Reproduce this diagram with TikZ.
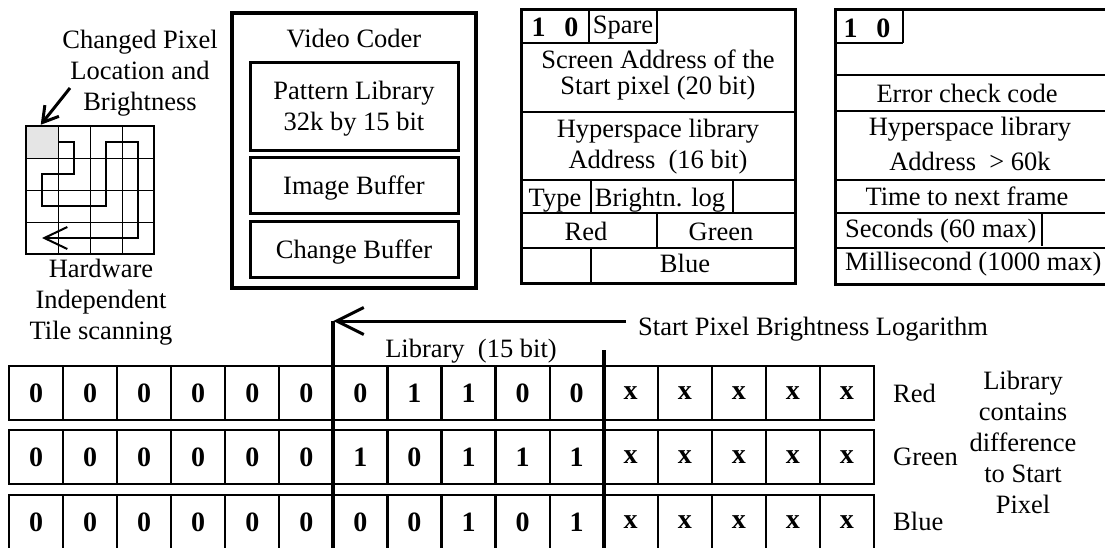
\documentclass[tikz,border=0pt]{standalone}
\usepackage{fontspec}
\setmainfont{Liberation Serif}
\usetikzlibrary{arrows.meta}

\begin{document}
\begin{tikzpicture}[x=1pt, y=-1pt,
    every node/.style={inner sep=0pt, font=\fontsize{26.5}{31}\selectfont},
    bitcell/.style={draw, line width=2.2pt, minimum width=54.06pt, minimum height=54pt, font=\fontsize{28}{31}\selectfont\bfseries},
    coderbox/.style={draw, line width=3pt, minimum width=208pt, text depth=0pt},
    thinrule/.style={line width=1.5pt},
    barb/.style={line width=3pt, -{Straight Barb[length=27pt, width=27pt]}}]
    \clip (0,0) rectangle (1105,547);
    \fill[gray!20] (26,126) rectangle (58,158);
    \foreach \k in {1,2,3} {
        \draw[line width=1pt] ({26+32*\k},126) -- ({26+32*\k},254);
        \draw[line width=1pt] (26,{126+32*\k}) -- (154,{126+32*\k});
    }
    \node[draw, line width=2.5pt, minimum size=128pt] (tile) at (90,190) {};
    \draw[line width=2pt, -{Straight Barb[length=23pt, width=22pt]}] (58,142) -- (74,142) -- (74,174) -- (42,174) -- (42,206)
        -- (106,206) -- (106,142) -- (138,142) -- (138,238) -- (42,238);
    \node[align=center] (chg) at (140,73) {Changed Pixel\\Location and\\Brightness};
    \node[align=center] (scan) at (101,302) {Hardware\\Independent\\Tile scanning};
    \coordinate (chgtail) at (70,88);
    \draw[line width=3pt, -{Straight Barb[length=15pt, width=18pt]}] (chgtail) -- ([xshift=16pt]tile.north west);

    \node[draw, line width=4pt, minimum width=244pt, minimum height=275pt] (coder) at (354,150.5) {};
    \node[anchor=base] (codertitle) at (354,47) {Video Coder};
    \node[coderbox, minimum height=88pt, align=center] (patlib) at (354,106) {Pattern Library\\32k by 15 bit};
    \node[coderbox, minimum height=56pt] (imgbuf) at (354,185) {Image Buffer};
    \node[coderbox, minimum height=56pt] (chgbuf) at (354,249) {Change Buffer};

    \node[draw, line width=3pt, minimum width=274pt, minimum height=274pt] (pkt) at (658,146) {};
    \draw[thinrule] (521,43) -- (657,43) (589,9) -- (589,43) (657,9) -- (657,43);
    \foreach \y in {112,180,213,248}
        \draw[thinrule] (521,\y) -- (795,\y);
    \draw[thinrule] (591,180) -- (591,213) (733,180) -- (733,213) (657,213) -- (657,248) (591,248) -- (591,283);
    \node[anchor=base, font=\fontsize{28}{31}\selectfont\bfseries] (pktflag) at (555,36) {1\enspace\,0};
    \node[anchor=base] (spare) at (623,33) {Spare};
    \node[align=center] (scraddr) at (658,75) {Screen Address of the\\[-5pt]Start pixel (20 bit)};
    \node[align=center] (hyplib) at (658,146.5) {Hyperspace library\\Address~~(16 bit)};
    \node[anchor=base] (type) at (555,206) {Type};
    \node[anchor=base] (brlog) at (660,206) {Brightn. log};
    \node[anchor=base] (pktred) at (586,240) {Red};
    \node[anchor=base] (pktgreen) at (721,240) {Green};
    \node[anchor=base] (pktblue) at (685,272) {Blue};

    \node[draw, line width=3pt, minimum width=274pt, minimum height=275pt, anchor=north west] (frm) at (834,8) {};
    \draw[thinrule] (834,43) -- (903,43) (903,8) -- (903,43);
    \foreach \y in {75,111,180,213,248}
        \draw[thinrule] (834,\y) -- (1110,\y);
    \draw[thinrule] (1042,213) -- (1042,246);
    \node[anchor=base, font=\fontsize{28}{31}\selectfont\bfseries] (frmflag) at (867,37) {1\enspace\,0};
    \node[anchor=base] (errchk) at (967,102) {Error check code};
    \node[align=center] (hypaddr) at (970,143.5) {Hyperspace library\\[4pt]Address~~> 60k};
    \node[anchor=base] (nextfr) at (967,205) {Time to next frame};
    \node[anchor=base west] (secs) at (845,237) {Seconds (60 max)};
    \node[anchor=base west] (msecs) at (845,270) {Millisecond (1000 max)};

    \foreach \r/\y/\bits in {red/393/{0,0,0,0,0,0,0,1,1,0,0,x,x,x,x,x},
                             green/457/{0,0,0,0,0,0,1,0,1,1,1,x,x,x,x,x},
                             blue/522/{0,0,0,0,0,0,0,0,1,0,1,x,x,x,x,x}} {
        \foreach \b [count=\c] in \bits {
            \node[bitcell] (\r\c) at ({9+54.06*(\c-0.5)},\y) {\b};
        }
    }
    \coordinate (libtop) at (333.4,321);
    \coordinate (libend) at (603.7,350);
    \coordinate (sptail) at (626,321);
    \draw[line width=4pt] (libtop) -- (333.4,550);
    \draw[line width=4pt] (libend) -- (603.7,550);
    \draw[barb] (sptail) -- (libtop);
    \node[anchor=base west] (spbl) at (638,335) {Start Pixel Brightness Logarithm};
    \node[anchor=base] (libbits) at (471,357) {Library~~(15 bit)};
    \node[anchor=base west] (lblred) at (893,402) {Red};
    \node[anchor=base west] (lblgreen) at (893,465) {Green};
    \node[anchor=base west] (lblblue) at (893,530) {Blue};
    \node[align=center] (libnote) at (1023,442) {Library\\contains\\difference\\to Start\\Pixel};
\end{tikzpicture}
\end{document}
